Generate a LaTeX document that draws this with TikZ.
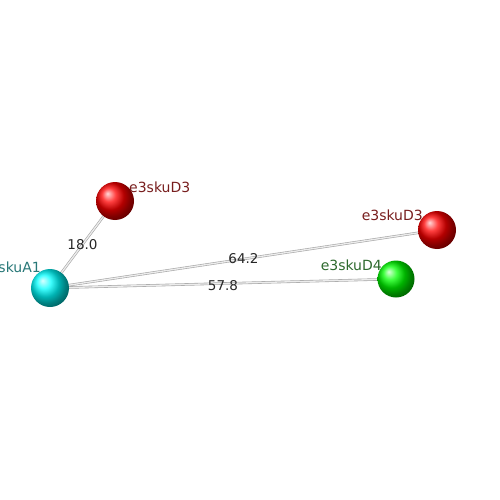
\documentclass[tikz,border=0pt]{standalone}
\usepackage{fontspec}
\setmainfont{DejaVu Sans}
\usepackage{tikz}
\usetikzlibrary{positioning,shapes}
\definecolor{skuacolor}{RGB}{40, 120, 120}
\definecolor{skudcolor}{RGB}{120, 30, 30}
\definecolor{skugcolor}{RGB}{45, 105, 45}

\begin{document}
\begin{tikzpicture}[
    x=1pt, y=-1pt,
    sku/.style={circle, minimum size=38pt, inner sep=0pt},
    skulabel/.style={inner sep=0pt, font=\fontsize{14}{16}\selectfont},
    weight/.style={inner sep=0pt, font=\fontsize{13.5}{16}\selectfont, text=black!85},
    link/.style={draw=gray!70, double=gray!15, line width=0.6pt, double distance=1.3pt}
]
    \useasboundingbox (0,0) rectangle (500,500);

    % Edges
    \coordinate (a1c) at (50,288);
    \coordinate (d3ac) at (115,201);
    \coordinate (d3bc) at (437,230);
    \coordinate (d4c) at (396,279);
    \draw[link] (a1c) -- (d3ac) node[weight, pos=0.5] {18.0};
    \draw[link] (a1c) -- (d3bc) node[weight, pos=0.5] {64.2};
    \draw[link] (a1c) -- (d4c) node[weight, pos=0.5, yshift=-2pt] {57.8};

    % Spheres
    \node[sku, ball color=cyan] (a1) at (a1c) {};
    \node[sku, ball color=red] (d3a) at (d3ac) {};
    \node[sku, ball color=red] (d3b) at (d3bc) {};
    \node[sku, minimum size=37pt, ball color=green] (d4) at (d4c) {};

    % Labels
    \node[skulabel, text=skuacolor, anchor=east] (a1lab) at (41,267) {e3skuA1};
    \node[skulabel, text=skudcolor, anchor=west] (d3alab) at (129,187) {e3skuD3};
    \node[skulabel, text=skudcolor, anchor=east] (d3blab) at (423,215) {e3skuD3};
    \node[skulabel, text=skugcolor, anchor=east] (d4lab) at (382,265) {e3skuD4};
\end{tikzpicture}
\end{document}
